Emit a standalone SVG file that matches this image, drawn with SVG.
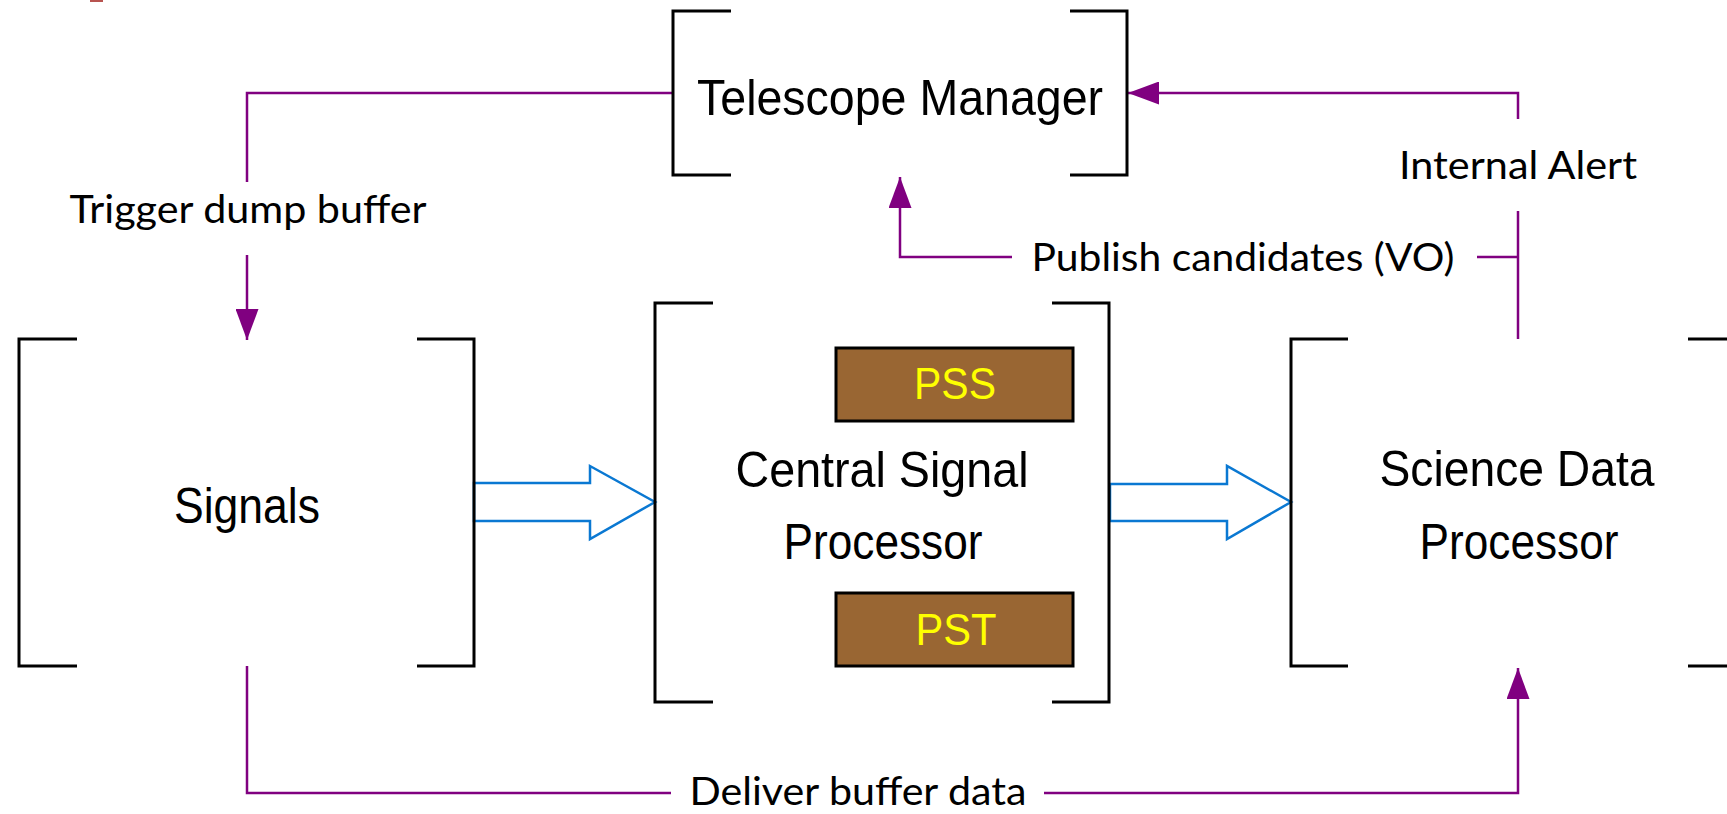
<svg xmlns="http://www.w3.org/2000/svg" width="1727" height="814" viewBox="0 0 1727 814">
  <style>
    .bracket { fill: none; stroke: #000; stroke-width: 3; }
    .title { font-family: "Liberation Sans", Arial, sans-serif; font-size: 50px; fill: #000; text-anchor: middle; }
    .sub { font-family: "Liberation Sans", Arial, sans-serif; font-size: 45px; fill: #ffff00; text-anchor: middle; }
    .label { font-family: Lato, "Open Sans", sans-serif; font-size: 39px; fill: #000; text-anchor: middle; }
    .link { fill: none; stroke: #800080; stroke-width: 2.5; }
    .flow { fill: #fff; stroke: #0a78d2; stroke-width: 2.5; stroke-linejoin: miter; }
    .module { fill: #996633; stroke: #000; stroke-width: 3; }
  </style>
  <defs>
    <marker id="head" viewBox="0 0 31 23" refX="31" refY="11.5" markerWidth="31" markerHeight="23" markerUnits="userSpaceOnUse" orient="auto">
      <path d="M0,0 L31,11.5 L0,23 Z" fill="#800080"/>
    </marker>
  </defs>

  <rect x="90" y="0" width="13" height="2" fill="#b85450"/>

  <g id="connectors">
    <!-- Telescope Manager to Signals: trigger dump buffer -->
    <path class="link" d="M673,93 H247 V182"/>
    <path class="link" d="M247,255 V340" marker-end="url(#head)"/>
    <!-- Signals to Science Data Processor: deliver buffer data -->
    <path class="link" d="M247,666 V793 H671"/>
    <path class="link" d="M1044,793 H1518 V668" marker-end="url(#head)"/>
    <!-- Science Data Processor to Telescope Manager: internal alert -->
    <path class="link" d="M1518,339 V211"/>
    <path class="link" d="M1518,119 V93 H1128" marker-end="url(#head)"/>
    <!-- Publish candidates branch -->
    <path class="link" d="M1518,257 H1477"/>
    <path class="link" d="M1012,257 H900 V177" marker-end="url(#head)"/>
    <!-- Data flow block arrows -->
    <polygon class="flow" points="474,483 590,483 590,466 655,502 590,539 590,521 474,521"/>
    <polygon class="flow" points="1110,484 1227,484 1227,466 1291,502 1227,539 1227,521 1110,521"/>
    <text class="label" x="248" y="223" textLength="357" lengthAdjust="spacingAndGlyphs">Trigger dump buffer</text>
    <text class="label" x="1518" y="179" textLength="238" lengthAdjust="spacingAndGlyphs">Internal Alert</text>
    <text class="label" x="1243" y="271" textLength="423" lengthAdjust="spacingAndGlyphs">Publish candidates (VO)</text>
    <text class="label" x="858" y="805" textLength="337" lengthAdjust="spacingAndGlyphs">Deliver buffer data</text>
  </g>

  <g id="telescope-manager">
    <path class="bracket" d="M731,11 H673 V175 H731"/>
    <path class="bracket" d="M1070,11 H1127 V175 H1070"/>
    <text class="title" x="900" y="115" textLength="406" lengthAdjust="spacingAndGlyphs">Telescope Manager</text>
  </g>

  <g id="signals">
    <path class="bracket" d="M77,339 H19 V666 H77"/>
    <path class="bracket" d="M417,339 H474 V666 H417"/>
    <text class="title" x="247" y="523" textLength="146" lengthAdjust="spacingAndGlyphs">Signals</text>
  </g>

  <g id="central-signal-processor">
    <path class="bracket" d="M713,303 H655 V702 H713"/>
    <path class="bracket" d="M1052,303 H1109 V702 H1052"/>
    <text class="title" x="882" y="487" textLength="293" lengthAdjust="spacingAndGlyphs">Central Signal</text>
    <text class="title" x="883" y="559" textLength="199" lengthAdjust="spacingAndGlyphs">Processor</text>
  </g>

  <g id="pss">
    <rect class="module" x="836" y="348" width="237" height="73"/>
    <text class="sub" x="955" y="399" textLength="82" lengthAdjust="spacingAndGlyphs">PSS</text>
  </g>

  <g id="pst">
    <rect class="module" x="836" y="593" width="237" height="73"/>
    <text class="sub" x="956" y="645" textLength="81" lengthAdjust="spacingAndGlyphs">PST</text>
  </g>

  <g id="science-data-processor">
    <path class="bracket" d="M1348,339 H1291 V666 H1348"/>
    <path class="bracket" d="M1688,339 H1745 V666 H1688"/>
    <text class="title" x="1517" y="486" textLength="275" lengthAdjust="spacingAndGlyphs">Science Data</text>
    <text class="title" x="1519" y="559" textLength="199" lengthAdjust="spacingAndGlyphs">Processor</text>
  </g>
</svg>
